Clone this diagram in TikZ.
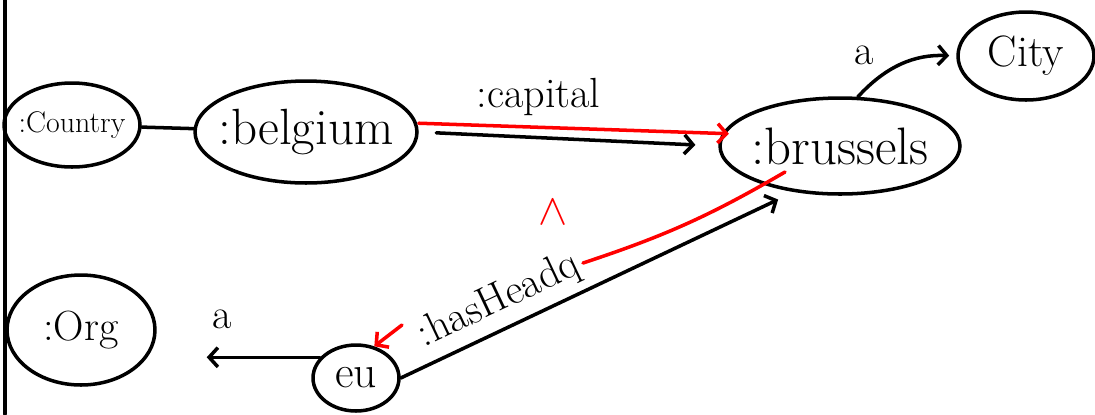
\documentclass[tikz,border=0pt]{standalone}
\usetikzlibrary{shapes.geometric,arrows.meta}
\begin{document}
\begin{tikzpicture}[x=0.02cm,y=-0.02cm,line width=2pt,line cap=round,
  >={Straight Barb[length=5pt,width=11pt]},
  ent/.style={draw,ellipse,inner sep=0pt},
  lbl/.style={font=\fontsize{24}{26}\selectfont},
  redarr/.style={->,draw=red}]
  \useasboundingbox (0,0) rectangle (1095,414);
  % page edge
  \draw (5,0) to (5,414);

  % top row
  \node[ent,minimum width=2.72cm,minimum height=1.68cm,font=\fontsize{17}{19}\selectfont] (Country) at (72,125) {\makebox[0pt]{:Country}};
  \node[ent,minimum width=4.44cm,minimum height=2.04cm,font=\fontsize{29}{31}\selectfont] (Belgium) at (306,132) {\makebox[0pt]{:belgium}};
  \node[ent,minimum width=4.8cm,minimum height=1.92cm,font=\fontsize{30}{32}\selectfont] (Brussels) at (840,146) {\makebox[0pt]{:brussels}};
  \node[ent,minimum width=2.72cm,minimum height=1.76cm,font=\fontsize{25}{27}\selectfont] (City) at (1026,56) {\makebox[0pt]{City}};

  \draw (Country) to (Belgium);
  \draw[->,shorten <=10pt,shorten >=13pt] (Belgium.east) to node[lbl,pos=0.4,above=8pt] {:capital} (Brussels.west);
  \draw[redarr] ([yshift=5pt]Belgium.east) to ([xshift=6pt,yshift=7pt]Brussels.west);
  \draw[->,shorten >=4pt] (Brussels.70) to[bend left=25] node[lbl,pos=0.3,above left=1pt] {a} (City.west);

  % bottom row
  \node[ent,minimum width=2.96cm,minimum height=2.2cm,font=\fontsize{24}{26}\selectfont] (Org) at (81,330) {\makebox[0pt]{:Org}};
  \node[ent,minimum width=1.72cm,minimum height=1.32cm,font=\fontsize{26}{28}\selectfont] (Eu) at (356,378) {\makebox[0pt]{eu}};

  \draw[->,shorten >=1cm] (Eu.150) to node[lbl,pos=0.6,above=12pt] {a} (Eu.150 -| Org.east);
  \draw[->,shorten >=0.35cm] (Eu.east) to node[lbl,pos=0.28,above=1pt,sloped] {:hasHeadq} (Brussels.225);

  % inverse path
  \coordinate (RedA) at (785,172);
  \coordinate (RedB) at (583,263);
  \coordinate (RedC) at (402,325);
  \draw[draw=red] (RedA) to[bend left=6] (RedB);
  \draw[redarr] (RedC) to (Eu.60);
  \node[text=red,font=\fontsize{30}{30}\selectfont] (Caret) at (553,212) {$\wedge$};

\end{tikzpicture}
\end{document}
